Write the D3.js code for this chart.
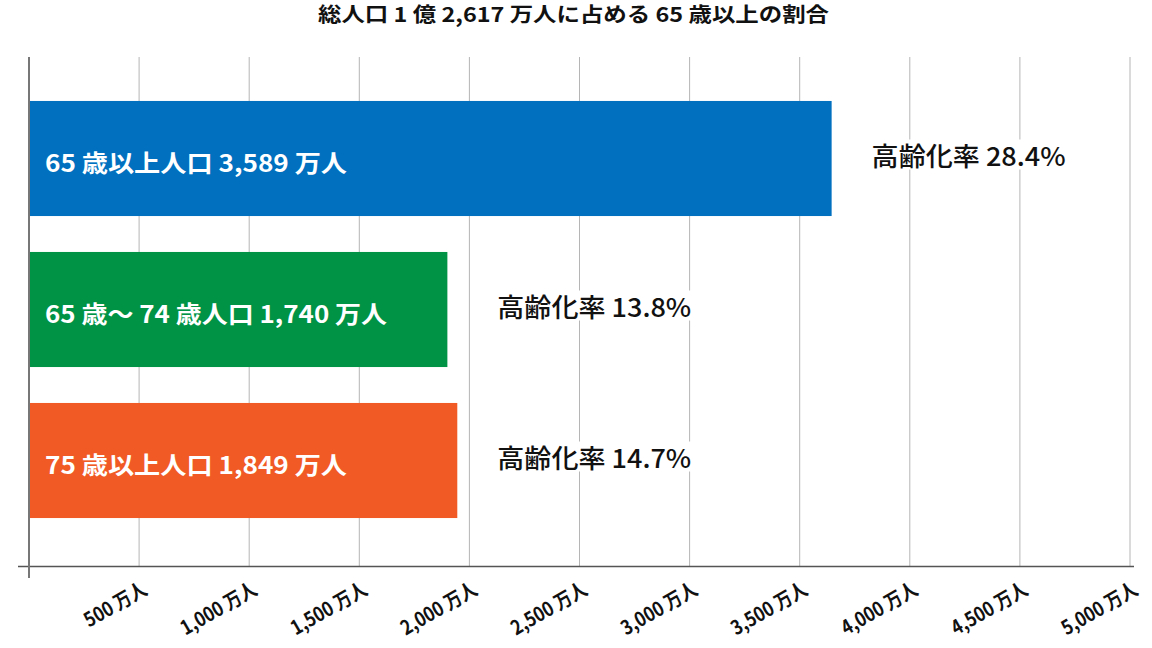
<!DOCTYPE html>
<html>
<head>
<meta charset="utf-8">
<script src="https://cdn.jsdelivr.net/npm/d3@7/dist/d3.min.js"></script>
<style>
html,body{margin:0;padding:0;background:#fff;}
svg{display:block;}
text{font-family:"Noto Sans CJK JP","Noto Sans",sans-serif;}
</style>
</head>
<body>
<svg id="chart" width="1152" height="648"></svg>
<script>
// ---- data ----
const titleText = "総人口 1 億 2,617 万人に占める 65 歳以上の割合";
const categories = ["65歳以上", "65〜74歳", "75歳以上"];
const barLabels = ["65 歳以上人口 3,589 万人", "65 歳〜 74 歳人口 1,740 万人", "75 歳以上人口 1,849 万人"];
const barValues = [3645, 1900, 1945];           // bar lengths as drawn (万人)
const rateLabels = ["高齢化率 28.4%", "高齢化率 13.8%", "高齢化率 14.7%"];
const barColors = ["#0070bf", "#009245", "#f15a24"];
const tickValues = [500, 1000, 1500, 2000, 2500, 3000, 3500, 4000, 4500, 5000];
const tickLabels = ["500 万人", "1,000 万人", "1,500 万人", "2,000 万人", "2,500 万人", "3,000 万人", "3,500 万人", "4,000 万人", "4,500 万人", "5,000 万人"];

// ---- layout ----
const svg = d3.select("#chart");
const x = d3.scaleLinear().domain([0, 5000]).range([29, 1130]);
const y = d3.scaleBand().domain(categories).range([83, 536]).paddingInner(0.238).paddingOuter(0.119);
const gridTop = 57, baseY = 566.5;

function condense(sel, target) {
  sel.each(function(d, i) {
    const t = typeof target === "function" ? target(d, i, this) : target;
    d3.select(this).attr("textLength", t).attr("lengthAdjust", "spacingAndGlyphs");
  });
}

// title
svg.append("text")
  .attr("x", 573.5).attr("y", 13)
  .attr("text-anchor", "middle").attr("dominant-baseline", "central")
  .attr("font-size", 20).attr("font-weight", 700).attr("fill", "#111")
  .text(titleText)
  .call(condense, 511);

// gridlines
svg.append("g").selectAll("line").data(tickValues).join("line")
  .attr("x1", d => x(d)).attr("x2", d => x(d))
  .attr("y1", gridTop).attr("y2", baseY)
  .attr("stroke", "#b5b5b5").attr("stroke-width", 1);

// baseline axis
const axis = d3.axisBottom(x).tickValues(tickValues).tickSize(0).tickFormat((d, i) => tickLabels[i]);
const gAxis = svg.append("g").attr("transform", `translate(0,${baseY})`).call(axis);
gAxis.select(".domain").remove();
svg.append("line").attr("x1", 18).attr("x2", 1134).attr("y1", baseY).attr("y2", baseY)
  .attr("stroke", "#555").attr("stroke-width", 1.5);
gAxis.selectAll(".tick text")
  .attr("font-family", '"Noto Sans CJK JP",sans-serif')
  .attr("font-size", 20).attr("font-weight", 700).attr("fill", "#111")
  .attr("text-anchor", "end")
  .attr("dy", 0).attr("y", 0)
  .attr("transform", "translate(9,27) rotate(-30) scale(0.86,1)");

// left axis line
svg.append("line").attr("x1", x(0)).attr("x2", x(0)).attr("y1", gridTop).attr("y2", 578)
  .attr("stroke", "#777").attr("stroke-width", 2);

// bars
svg.append("g").selectAll("rect").data(categories).join("rect")
  .attr("x", x(0) + 1)
  .attr("y", d => y(d))
  .attr("width", (d, i) => x(barValues[i]) - x(0) - 1)
  .attr("height", y.bandwidth())
  .attr("fill", (d, i) => barColors[i]);

// labels inside bars
const innerWidths = [302, 342, 302];
svg.append("g").selectAll("text").data(categories).join("text")
  .attr("x", x(0) + 16)
  .attr("y", d => y(d) + y.bandwidth() / 2 + 3)
  .attr("dominant-baseline", "central")
  .attr("font-size", 24).attr("font-weight", 700).attr("fill", "#fff")
  .text((d, i) => barLabels[i])
  .call(condense, (d, i) => innerWidths[i]);

// rate labels with white backing
const gRate = svg.append("g");
categories.forEach((c, i) => {
  const rx = Math.max(x(barValues[i]), x(barValues[2])) + 40;
  const cy = y(c) + y.bandwidth() / 2 - 4;
  const g = gRate.append("g");
  const bg = g.append("rect").attr("fill", "#fff");
  g.append("text")
    .attr("x", rx).attr("y", cy)
    .attr("dominant-baseline", "central")
    .attr("font-size", 26).attr("font-weight", 500).attr("fill", "#111")
    .text(rateLabels[i])
    .call(condense, 194);
  bg.attr("x", rx - 2).attr("y", cy - 15).attr("width", 198).attr("height", 30);
});
</script>
</body>
</html>
